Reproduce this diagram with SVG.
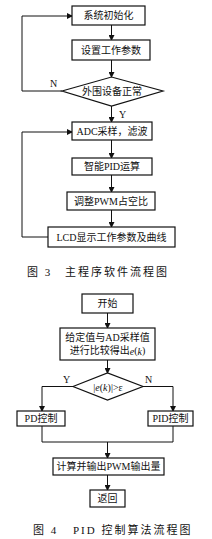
<svg xmlns="http://www.w3.org/2000/svg" width="212" height="539" viewBox="0 0 212 539">
<defs>
<marker id="ah" markerWidth="6" markerHeight="6" refX="5" refY="3" orient="auto" markerUnits="userSpaceOnUse">
<path d="M0,0 L6,3 L0,6 Z" fill="#111"/>
</marker>
<style>
.b{fill:#fff;stroke:#111;stroke-width:1.2}
.l{fill:none;stroke:#111;stroke-width:1}
.t{font-family:"Liberation Serif","Noto Sans CJK SC",serif;font-size:10px;fill:#111;text-anchor:middle;dominant-baseline:central}
.c{font-family:"Liberation Serif","Noto Sans CJK SC",serif;font-size:11px;fill:#111;letter-spacing:2px}
.lb{font-family:"Liberation Serif",serif;font-size:10px;fill:#111}
</style>
</defs>
<rect width="212" height="539" fill="#fff"/>
<g id="connectors">
<line class="l" x1="111.5" y1="25" x2="111.5" y2="40" marker-end="url(#ah)"/>
<line class="l" x1="111.5" y1="60" x2="111.5" y2="77" marker-end="url(#ah)"/>
<polyline class="l" points="62,91 22,91 22,16 72,16" marker-end="url(#ah)"/>
<line class="l" x1="111.5" y1="106" x2="111.5" y2="122" marker-end="url(#ah)"/>
<line class="l" x1="111.5" y1="140" x2="111.5" y2="158" marker-end="url(#ah)"/>
<line class="l" x1="111.5" y1="175" x2="111.5" y2="192" marker-end="url(#ah)"/>
<line class="l" x1="111.5" y1="210" x2="111.5" y2="227" marker-end="url(#ah)"/>
<polyline class="l" points="48,237 22,237 22,132 72,132" marker-end="url(#ah)"/>
<line class="l" x1="107.5" y1="313" x2="107.5" y2="328" marker-end="url(#ah)"/>
<line class="l" x1="107.5" y1="360" x2="107.5" y2="373" marker-end="url(#ah)"/>
<polyline class="l" points="73,386.5 42,386.5 42,411" marker-end="url(#ah)"/>
<polyline class="l" points="143,386.5 173,386.5 173,411" marker-end="url(#ah)"/>
<polyline class="l" points="42,426 42,442 173,442 173,426"/>
<line class="l" x1="107.5" y1="442" x2="107.5" y2="458" marker-end="url(#ah)"/>
<line class="l" x1="107.5" y1="475" x2="107.5" y2="490" marker-end="url(#ah)"/>
</g>
<g id="n1"><rect class="b" x="72" y="6" width="73" height="19"/><text class="t" x="108.5" y="15.5">系统初始化</text></g>
<g id="n2"><rect class="b" x="72" y="40" width="78" height="20"/><text class="t" x="111" y="50">设置工作参数</text></g>
<g id="n3"><polygon class="b" points="62,91 111.5,77 163,91 111.5,106"/><text class="t" x="112" y="91.5">外围设备正常</text></g>
<text class="lb" x="50" y="87">N</text>
<text class="lb" x="119" y="118">Y</text>
<g id="n4"><rect class="b" x="72" y="122" width="80" height="18"/><text class="t" x="112" y="131">ADC采样，滤波</text></g>
<g id="n5"><rect class="b" x="72" y="158" width="80" height="17"/><text class="t" x="112" y="166.5">智能PID运算</text></g>
<g id="n6"><rect class="b" x="67" y="192" width="88" height="18"/><text class="t" x="111" y="201">调整PWM占空比</text></g>
<g id="n7"><rect class="b" x="48" y="227" width="127" height="20"/><text class="t" x="111.5" y="237">LCD显示工作参数及曲线</text></g>
<text class="c" x="27" y="276">图 3</text>
<text class="c" x="65" y="276">主程序软件流程图</text>
<g id="m1"><rect class="b" x="82" y="294" width="51" height="19"/><text class="t" x="107.5" y="303.5">开始</text></g>
<g id="m2"><rect class="b" x="60" y="328" width="95" height="32"/><text class="t" x="107.5" y="337.5">给定值与AD采样值</text><text class="t" x="107.5" y="350.5">进行比较得出<tspan font-style="italic">e</tspan>(<tspan font-style="italic">k</tspan>)</text></g>
<g id="m3"><polygon class="b" points="73,386.5 107.5,373 143,386.5 107.5,400"/><text class="t" x="108" y="387">|<tspan font-style="italic">e</tspan>(<tspan font-style="italic">k</tspan>)|&gt;ε</text></g>
<text class="lb" x="63" y="383">Y</text>
<text class="lb" x="145" y="383">N</text>
<g id="m4"><rect class="b" x="17" y="411" width="48" height="15"/><text class="t" x="41" y="418.5">PD控制</text></g>
<g id="m5"><rect class="b" x="148" y="411" width="45" height="15"/><text class="t" x="170.5" y="418.5">PID控制</text></g>
<g id="m6"><rect class="b" x="53" y="458" width="111" height="17"/><text class="t" x="108.5" y="466.5">计算并输出PWM输出量</text></g>
<g id="m7"><rect class="b" x="90" y="490" width="35" height="17"/><text class="t" x="107.5" y="498.5">返回</text></g>
<text class="c" x="33" y="534">图 4</text>
<text class="c" x="73" y="534">PID 控制算法流程图</text>
</svg>
